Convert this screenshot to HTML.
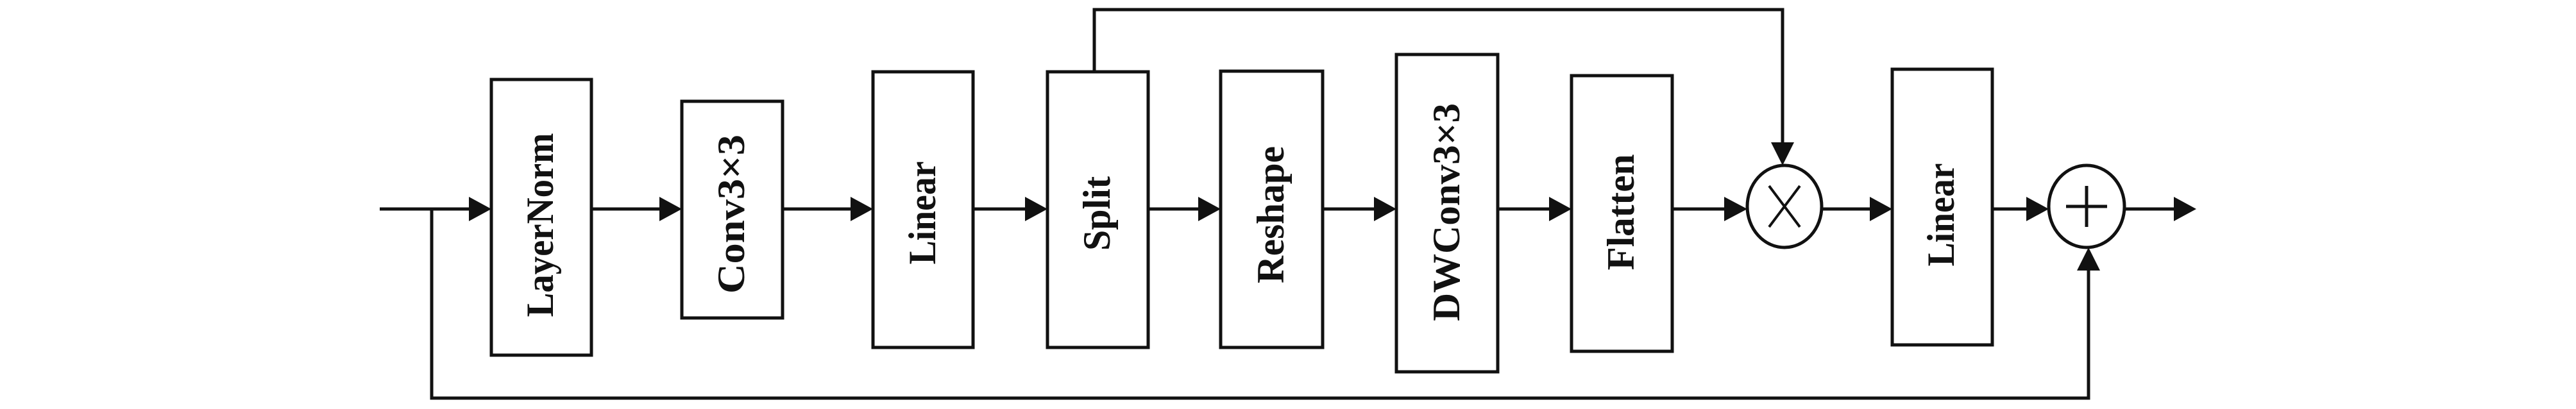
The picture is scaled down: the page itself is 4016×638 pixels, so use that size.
<!DOCTYPE html>
<html><head><meta charset="utf-8"><style>
html,body{margin:0;padding:0;background:#fff;}
svg{display:block}
text{font-family:"Liberation Serif",serif;font-weight:bold;font-size:60px;fill:#111;}
</style></head><body>
<svg width="4016" height="638" viewBox="0 0 4016 638" xmlns="http://www.w3.org/2000/svg">
<g stroke="#111" stroke-width="5" fill="none">
<rect x="766" y="124" width="156" height="430"/>
<rect x="1063" y="158" width="157" height="338"/>
<rect x="1361" y="112" width="156" height="430"/>
<rect x="1633" y="112" width="157" height="430"/>
<rect x="1903" y="111" width="159" height="431"/>
<rect x="2177" y="85" width="158" height="495"/>
<rect x="2450" y="118" width="157" height="430"/>
<rect x="2950" y="108" width="156" height="430"/>
<ellipse cx="2782" cy="322" rx="58" ry="64"/>
<ellipse cx="3253" cy="322" rx="59" ry="64"/>
<path d="M592 326H735 M922 326H1032 M1220 326H1330 M1517 326H1602 M1790 326H1872 M2062 326H2146 M2335 326H2419 M2607 326H2692 M2840 326H2919 M3106 326H3163 M3312 326H3393"/>
<path d="M673 326V621H3256V418"/>
<path d="M1706 112V15H2779V226"/>
<path d="M2758 290L2806 354M2806 290L2758 354" stroke-width="4"/>
<path d="M3253 290V354M3221 322H3285" stroke-width="5"/>
</g>
<g fill="#111">
<polygon points="731,307 766,326 731,345"/>
<polygon points="1028,307 1063,326 1028,345"/>
<polygon points="1326,307 1361,326 1326,345"/>
<polygon points="1598,307 1633,326 1598,345"/>
<polygon points="1868,307 1903,326 1868,345"/>
<polygon points="2142,307 2177,326 2142,345"/>
<polygon points="2415,307 2450,326 2415,345"/>
<polygon points="2688,307 2724,326 2688,345"/>
<polygon points="2915,307 2950,326 2915,345"/>
<polygon points="3159,307 3194,326 3159,345"/>
<polygon points="3389,307 3424,326 3389,345"/>
<polygon points="2761,222 2797,222 2779,258"/>
<polygon points="3238,422 3274,422 3256,386"/>
</g>
<g text-anchor="middle" lengthAdjust="spacingAndGlyphs">
<text transform="translate(862,351) rotate(-90)" textLength="287" lengthAdjust="spacingAndGlyphs">LayerNorm</text>
<text transform="translate(1160,334) rotate(-90)" textLength="248" lengthAdjust="spacingAndGlyphs">Conv3×3</text>
<text transform="translate(1458,332) rotate(-90)" textLength="161" lengthAdjust="spacingAndGlyphs">Linear</text>
<text transform="translate(1730,333) rotate(-90)" textLength="116" lengthAdjust="spacingAndGlyphs">Split</text>
<text transform="translate(2001,335) rotate(-90)" textLength="214" lengthAdjust="spacingAndGlyphs">Reshape</text>
<text transform="translate(2275,331) rotate(-90)" textLength="340" lengthAdjust="spacingAndGlyphs">DWConv3×3</text>
<text transform="translate(2547,331) rotate(-90)" textLength="181" lengthAdjust="spacingAndGlyphs">Flatten</text>
<text transform="translate(3046,335) rotate(-90)" textLength="161" lengthAdjust="spacingAndGlyphs">Linear</text>
</g>
</svg>
</body></html>
